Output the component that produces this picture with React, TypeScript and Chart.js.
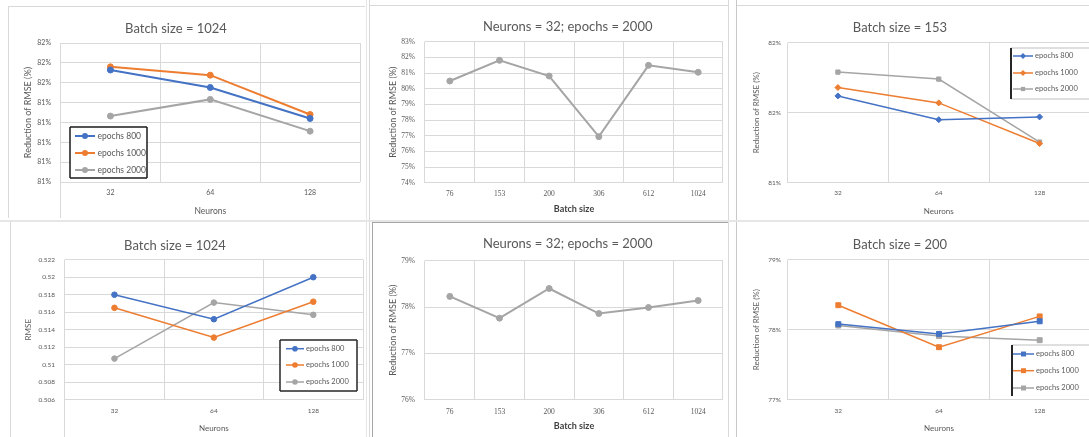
import React, { useEffect, useRef } from 'react';
import { Chart, registerables } from 'chart.js';

Chart.register(...registerables);

// ---------------- DATA ----------------
const neurons = ['32', '64', '128'];
const batchSizes = ['76', '153', '200', '306', '612', '1024'];
const epochNames = ['epochs 800', 'epochs 1000', 'epochs 2000'];

// Panel 1: Batch size = 1024, reduction of RMSE (%)
const p1Epochs800 = [81.532, 81.488, 81.41];
const p1Epochs1000 = [81.54, 81.519, 81.42];
const p1Epochs2000 = [81.416, 81.458, 81.378];
const p1TickValues = [81.25, 81.3, 81.35, 81.4, 81.45, 81.5, 81.55, 81.6];
const p1TickLabels = ['81%', '81%', '81%', '81%', '81%', '82%', '82%', '82%'];

// Panel 2: Neurons = 32; epochs = 2000 (top)
const p2Reduction = [80.49, 81.81, 80.81, 76.94, 81.49, 81.05];
const p2TickValues = [74, 75, 76, 77, 78, 79, 80, 81, 82, 83];
const p2TickLabels = ['74%', '75%', '76%', '77%', '78%', '79%', '80%', '81%', '82%', '83%'];

// Panel 3: Batch size = 153
const p3Epochs800 = [81.62, 81.45, 81.47];
const p3Epochs1000 = [81.68, 81.57, 81.28];
const p3Epochs2000 = [81.79, 81.74, 81.29];
const p3TickValues = [81, 81.5, 82];
const p3TickLabels = ['81%', '82%', '82%'];

// Panel 4: Batch size = 1024, RMSE
const p4Epochs800 = [0.518, 0.5152, 0.52];
const p4Epochs1000 = [0.5165, 0.5131, 0.5172];
const p4Epochs2000 = [0.5107, 0.5171, 0.5157];
const p4TickValues = [0.506, 0.508, 0.51, 0.512, 0.514, 0.516, 0.518, 0.52, 0.522];
const p4TickLabels = ['0.506', '0.508', '0.51', '0.512', '0.514', '0.516', '0.518', '0.52', '0.522'];

// Panel 5: Neurons = 32; epochs = 2000 (bottom)
const p5Reduction = [78.23, 77.76, 78.4, 77.86, 77.99, 78.14];
const p5TickValues = [76, 77, 78, 79];
const p5TickLabels = ['76%', '77%', '78%', '79%'];

// Panel 6: Batch size = 200
const p6Epochs800 = [78.08, 77.94, 78.12];
const p6Epochs1000 = [78.35, 77.75, 78.19];
const p6Epochs2000 = [78.06, 77.91, 77.85];
const p6TickValues = [77, 78, 79];
const p6TickLabels = ['77%', '78%', '79%'];

// ---------------- STYLE ----------------
const BLUE = '#4472C4';
const ORANGE = '#ED7D31';
const GRAY = '#A5A5A5';
const TEXT = '#595959';
const GRID = '#d9d9d9';
const FONT = "Lato, 'Noto Sans', sans-serif";
const SERIF = "'Liberation Serif', 'DejaVu Serif', serif";

type DS = { label: string; data: number[]; color: string; pointStyle: string };
type LegendSpec = {
  x: number; y: number; w: number; h: number;
  itemYs: number[]; lineX0: number; lineX1: number; textX: number;
  fontSize: number;
  borders: { left?: [string, number]; right?: [string, number]; top?: [string, number]; bottom?: [string, number] };
};
type PanelSpec = {
  clip: [number, number, number, number];
  canvas: [number, number, number, number];
  plot: [number, number, number, number];
  title: string; titleX: number; titleY: number; titleSize: number;
  yTitle: string; yTitleX: number; yTitleSize: number;
  xTitle: string; xTitleY: number; xTitleSize: number; xTitleBold: boolean; xTitleColor: string;
  xLabelY: number; yLabelRight: number; tickSize: number; tickFamily: string;
  labels: string[]; datasets: DS[];
  min: number; max: number; tickValues: number[]; tickLabels: string[];
  lineWidth: number; pointRadius: number;
  legend?: LegendSpec;
};

function drawMarker(ctx: CanvasRenderingContext2D, style: string, x: number, y: number, r: number, color: string) {
  ctx.fillStyle = color;
  ctx.beginPath();
  if (style === 'rect') {
    const s = r * Math.SQRT1_2;
    ctx.rect(x - s, y - s, 2 * s, 2 * s);
  } else if (style === 'rectRot') {
    ctx.moveTo(x, y - r);
    ctx.lineTo(x + r, y);
    ctx.lineTo(x, y + r);
    ctx.lineTo(x - r, y);
    ctx.closePath();
  } else {
    ctx.arc(x, y, r, 0, Math.PI * 2);
  }
  ctx.fill();
}

function makeDecorPlugin(s: PanelSpec) {
  const [cx, cy] = s.canvas;
  return {
    id: 'excelDecor',
    afterLayout(chart: any) {
      const tb = chart.titleBlock;
      if (!tb) return;
      const w = tb.right - tb.left;
      const lh = s.titleSize * 1.2;
      const tx = s.titleX - cx;
      tb.left = tx - w / 2;
      tb.right = tx + w / 2;
      const h = tb.bottom - tb.top;
      tb.top = s.titleY - cy - lh / 2;
      tb.bottom = tb.top + h;
    },
    afterDraw(chart: any) {
      const lg = s.legend;
      if (!lg) return;
      const ctx: CanvasRenderingContext2D = chart.ctx;
      const x = lg.x - cx, y = lg.y - cy;
      ctx.save();
      ctx.fillStyle = '#ffffff';
      ctx.fillRect(x, y, lg.w, lg.h);
      const b = lg.borders;
      const line = (x0: number, y0: number, x1: number, y1: number, spec?: [string, number]) => {
        if (!spec) return;
        ctx.strokeStyle = spec[0];
        ctx.lineWidth = spec[1];
        ctx.beginPath();
        ctx.moveTo(x0, y0);
        ctx.lineTo(x1, y1);
        ctx.stroke();
      };
      line(x, y, x + lg.w, y, b.top);
      line(x, y + lg.h, x + lg.w, y + lg.h, b.bottom);
      line(x, y, x, y + lg.h, b.left);
      line(x + lg.w, y, x + lg.w, y + lg.h, b.right);
      chart.data.datasets.forEach((ds: any, i: number) => {
        const iy = lg.itemYs[i] - cy;
        const x0 = lg.lineX0 - cx, x1 = lg.lineX1 - cx;
        ctx.strokeStyle = ds.borderColor;
        ctx.lineWidth = ds.borderWidth;
        ctx.beginPath();
        ctx.moveTo(x0, iy);
        ctx.lineTo(x1, iy);
        ctx.stroke();
        drawMarker(ctx, ds.pointStyle, (x0 + x1) / 2, iy, ds.pointRadius, ds.backgroundColor);
        ctx.fillStyle = TEXT;
        ctx.font = `${lg.fontSize}px ${FONT}`;
        ctx.textAlign = 'left';
        ctx.textBaseline = 'middle';
        ctx.fillText(ds.label, lg.textX - cx, iy);
      });
      ctx.restore();
    },
  };
}

function buildConfig(s: PanelSpec): any {
  const [cx, cy, cw, ch] = s.canvas;
  const [L, T, R, B] = s.plot;
  const titleLh = s.titleSize * 1.2;
  const yLh = s.yTitleSize * 1.2;
  const xLh = s.xTitleSize * 1.2;
  const yAxisW = L - cx;
  const xAxisH = cy + ch - B;
  return {
    type: 'line',
    data: {
      labels: s.labels,
      datasets: s.datasets.map((d) => ({
        label: d.label,
        data: d.data,
        borderColor: d.color,
        backgroundColor: d.color,
        borderWidth: s.lineWidth,
        pointStyle: d.pointStyle,
        pointRadius: s.pointRadius,
        pointBorderWidth: 1,
        pointBorderColor: d.color,
        pointBackgroundColor: d.color,
        tension: 0,
        fill: false,
      })),
    },
    options: {
      responsive: false,
      animation: false,
      devicePixelRatio: 1,
      layout: { padding: { left: 0, top: 0, right: cx + cw - R, bottom: 0 } },
      plugins: {
        legend: { display: false },
        tooltip: { enabled: false },
        title: {
          display: true,
          text: s.title,
          color: TEXT,
          font: { family: FONT, size: s.titleSize, weight: 'normal', lineHeight: 1.2 },
          padding: { top: 0, bottom: T - cy - titleLh },
        },
      },
      scales: {
        x: {
          type: 'category',
          offset: true,
          grid: { offset: true, color: GRID, lineWidth: 1, drawTicks: false },
          border: { display: false },
          ticks: {
            padding: s.xLabelY - B - s.tickSize * 0.6,
            color: TEXT,
            font: { family: s.tickFamily, size: s.tickSize },
            maxRotation: 0,
            autoSkip: false,
          },
          title: {
            display: true,
            text: s.xTitle,
            color: s.xTitleColor,
            font: { family: FONT, size: s.xTitleSize, weight: s.xTitleBold ? 'bold' : 'normal', lineHeight: 1.2 },
            padding: { top: 0, bottom: cy + ch - s.xTitleY - xLh / 2 },
          },
          afterFit: (sc: any) => {
            sc.height = xAxisH;
          },
        },
        y: {
          type: 'linear',
          min: s.min,
          max: s.max,
          afterBuildTicks: (sc: any) => {
            sc.ticks = s.tickValues.map((v) => ({ value: v }));
          },
          grid: { color: GRID, lineWidth: 1, drawTicks: false },
          border: { display: false },
          ticks: {
            callback: (_v: any, i: number) => s.tickLabels[i],
            padding: L - s.yLabelRight,
            color: TEXT,
            font: { family: s.tickFamily, size: s.tickSize },
            autoSkip: false,
          },
          title: {
            display: true,
            text: s.yTitle,
            color: TEXT,
            font: { family: FONT, size: s.yTitleSize, weight: 'normal', lineHeight: 1.2 },
            padding: { top: s.yTitleX - cx - yLh / 2, bottom: 0 },
          },
          afterFit: (sc: any) => {
            sc.width = yAxisW;
          },
        },
      },
    },
    plugins: [makeDecorPlugin(s)],
  };
}

const three = (a: number[], b: number[], c: number[], styles: string[]): DS[] => [
  { label: epochNames[0], data: a, color: BLUE, pointStyle: styles[0] },
  { label: epochNames[1], data: b, color: ORANGE, pointStyle: styles[1] },
  { label: epochNames[2], data: c, color: GRAY, pointStyle: styles[2] },
];

const panels: PanelSpec[] = [
  {
    clip: [8, 6, 357, 212], canvas: [8, 6, 357, 212], plot: [60.5, 43, 363.5, 182],
    title: 'Batch size = 1024', titleX: 176, titleY: 29, titleSize: 13,
    yTitle: 'Reduction of RMSE (%)', yTitleX: 28, yTitleSize: 9,
    xTitle: 'Neurons', xTitleY: 211, xTitleSize: 8.5, xTitleBold: false, xTitleColor: TEXT,
    xLabelY: 193, yLabelRight: 51, tickSize: 7, tickFamily: FONT,
    labels: neurons, datasets: three(p1Epochs800, p1Epochs1000, p1Epochs2000, ['circle', 'circle', 'circle']),
    min: 81.25, max: 81.6, tickValues: p1TickValues, tickLabels: p1TickLabels,
    lineWidth: 2, pointRadius: 3,
    legend: {
      x: 70, y: 127, w: 77, h: 51, itemYs: [136, 153, 170], lineX0: 75, lineX1: 95, textX: 97.5, fontSize: 8.5,
      borders: { left: ['#1a1a1a', 1.5], right: ['#1a1a1a', 1.5], top: ['#1a1a1a', 1.5], bottom: ['#1a1a1a', 1.5] },
    },
  },
  {
    clip: [370, 5, 358, 213], canvas: [370, 5, 358, 213], plot: [425, 41.7, 727, 182.7],
    title: 'Neurons = 32; epochs = 2000', titleX: 567.7, titleY: 26.7, titleSize: 13,
    yTitle: 'Reduction of RMSE (%)', yTitleX: 393.3, yTitleSize: 9,
    xTitle: 'Batch size', xTitleY: 209.3, xTitleSize: 9, xTitleBold: true, xTitleColor: '#404040',
    xLabelY: 194.3, yLabelRight: 415, tickSize: 7.5, tickFamily: SERIF,
    labels: batchSizes, datasets: [{ label: epochNames[2], data: p2Reduction, color: GRAY, pointStyle: 'circle' }],
    min: 74, max: 83, tickValues: p2TickValues, tickLabels: p2TickLabels,
    lineWidth: 2, pointRadius: 3,
  },
  {
    clip: [737, 5, 352, 213], canvas: [737, 5, 358, 213], plot: [787.5, 42.7, 1092, 182.7],
    title: 'Batch size = 153', titleX: 900, titleY: 28, titleSize: 13,
    yTitle: 'Reduction of RMSE (%)', yTitleX: 756.7, yTitleSize: 8,
    xTitle: 'Neurons', xTitleY: 211, xTitleSize: 8, xTitleBold: false, xTitleColor: TEXT,
    xLabelY: 192.7, yLabelRight: 781, tickSize: 6.5, tickFamily: FONT,
    labels: neurons, datasets: three(p3Epochs800, p3Epochs1000, p3Epochs2000, ['rectRot', 'rectRot', 'rect']),
    min: 81, max: 82, tickValues: p3TickValues, tickLabels: p3TickLabels,
    lineWidth: 1.5, pointRadius: 3,
    legend: {
      x: 1011, y: 48, w: 90, h: 51, itemYs: [56, 73, 89], lineX0: 1013, lineX1: 1033, textX: 1035, fontSize: 7.5,
      borders: { left: ['#262626', 2], top: ['#bfbfbf', 1], bottom: ['#bfbfbf', 1] },
    },
  },
  {
    clip: [10, 221, 355, 216], canvas: [10, 221, 358, 216], plot: [64.75, 259.7, 366.25, 399.7],
    title: 'Batch size = 1024', titleX: 175, titleY: 245.7, titleSize: 13,
    yTitle: 'RMSE', yTitleX: 28, yTitleSize: 8,
    xTitle: 'Neurons', xTitleY: 428.7, xTitleSize: 8, xTitleBold: false, xTitleColor: TEXT,
    xLabelY: 410.7, yLabelRight: 55, tickSize: 6.5, tickFamily: FONT,
    labels: neurons, datasets: three(p4Epochs800, p4Epochs1000, p4Epochs2000, ['circle', 'circle', 'circle']),
    min: 0.506, max: 0.522, tickValues: p4TickValues, tickLabels: p4TickLabels,
    lineWidth: 1.5, pointRadius: 2.8,
    legend: {
      x: 280, y: 340, w: 77, h: 51, itemYs: [348.7, 365, 382], lineX0: 286, lineX1: 304, textX: 306, fontSize: 7.5,
      borders: { left: ['#262626', 1.5], right: ['#262626', 1.5], top: ['#262626', 1.5], bottom: ['#262626', 1.5] },
    },
  },
  {
    clip: [372, 222, 356, 215], canvas: [372, 222, 356, 215], plot: [425, 260.7, 727, 399.7],
    title: 'Neurons = 32; epochs = 2000', titleX: 567.7, titleY: 244, titleSize: 13,
    yTitle: 'Reduction of RMSE (%)', yTitleX: 393.3, yTitleSize: 9,
    xTitle: 'Batch size', xTitleY: 426.3, xTitleSize: 9, xTitleBold: true, xTitleColor: '#404040',
    xLabelY: 412.3, yLabelRight: 415, tickSize: 7.5, tickFamily: SERIF,
    labels: batchSizes, datasets: [{ label: epochNames[2], data: p5Reduction, color: GRAY, pointStyle: 'circle' }],
    min: 76, max: 79, tickValues: p5TickValues, tickLabels: p5TickLabels,
    lineWidth: 2, pointRadius: 3,
  },
  {
    clip: [737, 222, 352, 215], canvas: [737, 222, 358, 215], plot: [788, 259.7, 1092, 399.7],
    title: 'Batch size = 200', titleX: 900, titleY: 244.7, titleSize: 13,
    yTitle: 'Reduction of RMSE (%)', yTitleX: 756.7, yTitleSize: 8,
    xTitle: 'Neurons', xTitleY: 428, xTitleSize: 8, xTitleBold: false, xTitleColor: TEXT,
    xLabelY: 410.7, yLabelRight: 781, tickSize: 6.5, tickFamily: FONT,
    labels: neurons, datasets: three(p6Epochs800, p6Epochs1000, p6Epochs2000, ['rect', 'rect', 'rect']),
    min: 77, max: 79, tickValues: p6TickValues, tickLabels: p6TickLabels,
    lineWidth: 1.5, pointRadius: 3.5,
    legend: {
      x: 1012, y: 345, w: 90, h: 51, itemYs: [354, 370.7, 388], lineX0: 1013, lineX1: 1034, textX: 1036, fontSize: 7.5,
      borders: { left: ['#262626', 2], top: ['#bfbfbf', 1] },
    },
  },
];

// frame lines of the collage: [x, y, w, h, color]
const frameLines: [number, number, number, number, string][] = [
  [8, 6, 357, 1, '#d9d9d9'],
  [8, 6, 1, 212, '#d9d9d9'],
  [370, 5, 358, 1, '#d9d9d9'],
  [369, 0, 1, 437, '#d9d9d9'],
  [366, 0, 1, 437, '#e6e6e6'],
  [728, 0, 1, 437, '#d9d9d9'],
  [736, 0, 1, 437, '#c8c8c8'],
  [737, 5, 352, 1, '#d9d9d9'],
  [0, 220, 1089, 2, '#e6e6e6'],
  [10, 222, 1, 215, '#d9d9d9'],
  [372, 222, 1, 215, '#a6a6a6'],
  [372, 222, 356, 1, '#a6a6a6'],
  [60, 182, 1, 36, '#d9d9d9'],
  [64, 400, 1, 37, '#d9d9d9'],
];

function Panel({ spec }: { spec: PanelSpec }) {
  const ref = useRef<HTMLCanvasElement | null>(null);
  useEffect(() => {
    if (!ref.current) return;
    const chart = new Chart(ref.current, buildConfig(spec));
    return () => chart.destroy();
  }, [spec]);
  const [clx, cly, clw, clh] = spec.clip;
  const [cx, cy, cw, ch] = spec.canvas;
  return (
    <div style={{ position: 'absolute', left: clx, top: cly, width: clw, height: clh, overflow: 'hidden' }}>
      <canvas
        ref={ref}
        width={cw}
        height={ch}
        style={{ position: 'absolute', left: cx - clx, top: cy - cly, width: cw, height: ch }}
      />
    </div>
  );
}

export default function App() {
  return (
    <div style={{ position: 'absolute', left: 0, top: 0, width: 1089, height: 437, overflow: 'hidden', background: '#ffffff' }}>
      {frameLines.map(([x, y, w, h, c], i) => (
        <div key={i} style={{ position: 'absolute', left: x, top: y, width: w, height: h, background: c }} />
      ))}
      {panels.map((p, i) => (
        <Panel key={i} spec={p} />
      ))}
    </div>
  );
}
